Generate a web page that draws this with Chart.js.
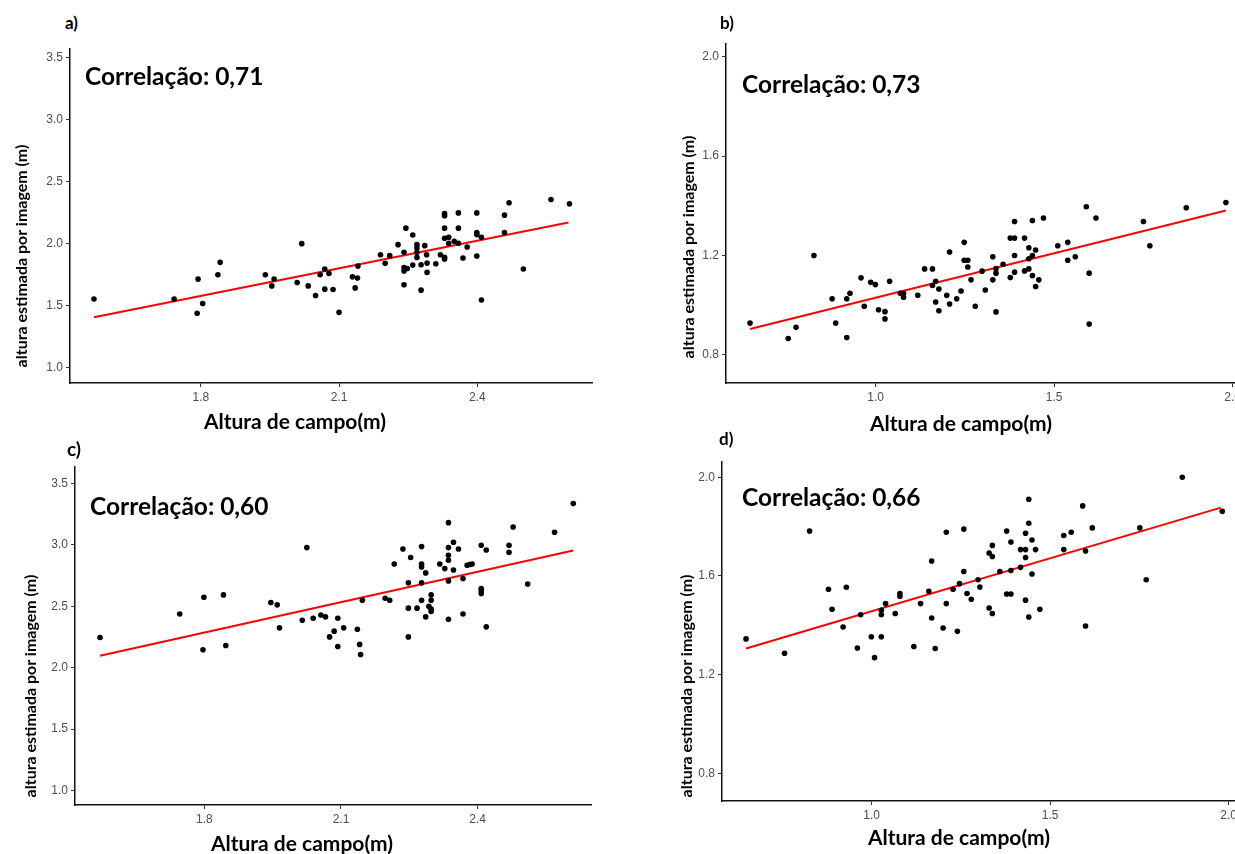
<!DOCTYPE html>
<html>
<head>
<meta charset="utf-8">
<script src="https://cdn.jsdelivr.net/npm/chart.js@4.4.1/dist/chart.umd.min.js"></script>
<style>
  html, body { margin:0; padding:0; background:#fff; }
  body { width:1235px; height:854px; overflow:hidden; position:relative; font-family:Lato, 'Open Sans', sans-serif; }
  canvas { position:absolute; }
  .txt { position:absolute; white-space:nowrap; font-weight:700; color:#000; line-height:1; }
  .tag { font-size:17px; }
  .corr { font-size:24.5px; }
  .xt { font-size:21px; transform:translateX(-50%); }
  .yt { font-size:16px; transform:translate(-50%,-50%) rotate(-90deg); }
</style>
</head>
<body>
<canvas id="cA" width="10" height="10"></canvas>
<canvas id="cB" width="10" height="10"></canvas>
<canvas id="cC" width="10" height="10"></canvas>
<canvas id="cD" width="10" height="10"></canvas>

<div class="txt tag" style="left:65px;top:14px">a)</div>
<div class="txt tag" style="left:720px;top:14px">b)</div>
<div class="txt tag" style="left:67px;top:439px;font-size:19px">c)</div>
<div class="txt tag" style="left:719px;top:430px">d)</div>

<div class="txt corr" style="left:85px;top:64px">Correlação: 0,71</div>
<div class="txt corr" style="left:742px;top:72px">Correlação: 0,73</div>
<div class="txt corr" style="left:90px;top:494px">Correlação: 0,60</div>
<div class="txt corr" style="left:742px;top:485px">Correlação: 0,66</div>

<div class="txt xt" style="left:295px;top:410px">Altura de campo(m)</div>
<div class="txt xt" style="left:961px;top:412px">Altura de campo(m)</div>
<div class="txt xt" style="left:302px;top:832px">Altura de campo(m)</div>
<div class="txt xt" style="left:959px;top:826px">Altura de campo(m)</div>

<div class="txt yt" style="left:21px;top:256px">altura estimada por imagem (m)</div>
<div class="txt yt" style="left:688px;top:247px">altura estimada por imagem (m)</div>
<div class="txt yt" style="left:30px;top:686px">altura estimada por imagem (m)</div>
<div class="txt yt" style="left:686px;top:686px">altura estimada por imagem (m)</div>

<script>
// ---- data ----
const xA = [1.568,1.742,1.794,1.792,1.804,1.837,1.842,1.940,1.954,1.959,2.019,2.009,2.033,2.049,2.059,2.069,2.078,2.069,2.087,2.100,
  2.141,2.129,2.140,2.135,2.190,2.200,2.210,2.228,2.245,2.260,2.241,2.241,2.241,2.248,2.241,2.260,2.269,2.269,2.269,2.269,
  2.286,2.290,2.278,2.291,2.291,2.278,2.310,2.320,2.329,2.329,2.329,2.329,2.329,2.329,2.338,2.338,2.350,2.359,2.359,2.359,
  2.378,2.369,2.399,2.399,2.399,2.409,2.399,2.409,2.459,2.459,2.469,2.500,2.560,2.600];
const yA = [1.551,1.551,1.711,1.435,1.514,1.746,1.846,1.746,1.656,1.711,1.997,1.684,1.656,1.579,1.746,1.792,1.757,1.630,1.627,1.443,
  1.816,1.729,1.719,1.640,1.908,1.838,1.900,1.989,2.122,2.067,1.927,1.805,1.776,1.797,1.665,1.824,1.989,1.962,1.927,1.886,
  1.981,1.908,1.827,1.840,1.765,1.622,1.835,1.908,1.873,1.886,2.240,2.222,2.122,2.040,2.049,2.000,2.016,2.000,2.245,2.122,
  1.970,1.881,2.245,2.086,2.070,2.049,1.897,1.543,2.227,2.086,2.327,1.792,2.353,2.318];
const fitA = [[1.568,1.403],[2.598,2.167]];

const xB = [0.648,0.755,0.777,0.827,0.878,0.888,0.919,0.928,0.919,0.959,0.968,0.986,0.999,1.008,1.026,1.026,1.039,1.069,1.078,1.078,
  1.118,1.137,1.159,1.168,1.159,1.177,1.168,1.177,1.207,1.199,1.207,1.227,1.239,1.248,1.248,1.258,1.258,1.267,1.279,1.298,
  1.307,1.328,1.337,1.337,1.328,1.337,1.357,1.377,1.389,1.389,1.389,1.377,1.389,1.417,1.429,1.429,1.439,1.448,1.417,1.429,
  1.439,1.457,1.448,1.439,1.470,1.510,1.538,1.538,1.559,1.590,1.617,1.598,1.598,1.750,1.768,1.870,1.981];
const yB = [0.928,0.866,0.911,1.200,1.026,0.928,1.026,1.048,0.870,1.110,0.996,1.092,1.083,0.982,0.974,0.945,1.096,1.048,1.032,1.048,
  1.040,1.146,1.146,1.096,1.079,1.065,1.013,0.978,1.214,1.040,1.005,1.026,1.057,1.253,1.181,1.181,1.154,1.102,0.996,1.137,
  1.061,1.195,1.147,1.129,1.102,0.973,1.165,1.270,1.270,1.337,1.200,1.111,1.133,1.270,1.231,1.187,1.200,1.222,1.138,1.146,
  1.119,1.102,1.075,1.341,1.351,1.239,1.253,1.181,1.195,1.396,1.351,1.129,0.924,1.337,1.239,1.392,1.413];
const fitB = [[0.648,0.904],[1.981,1.381]];

const xC = [1.571,1.746,1.799,1.797,1.842,1.847,1.946,1.960,1.965,2.025,2.015,2.039,2.056,2.066,2.075,2.085,2.093,2.093,2.106,2.136,
  2.141,2.143,2.147,2.197,2.207,2.217,2.236,2.253,2.248,2.248,2.248,2.267,2.277,2.277,2.277,2.286,2.277,2.277,2.286,2.298,
  2.298,2.293,2.298,2.298,2.317,2.328,2.336,2.336,2.336,2.336,2.336,2.336,2.347,2.347,2.358,2.368,2.368,2.377,2.383,2.388,
  2.408,2.419,2.408,2.408,2.408,2.419,2.469,2.469,2.478,2.510,2.569,2.610];
const yC = [2.245,2.437,2.573,2.145,2.592,2.180,2.530,2.511,2.324,2.977,2.386,2.402,2.429,2.413,2.250,2.297,2.402,2.172,2.324,2.313,
  2.189,2.107,2.549,2.565,2.549,2.844,2.966,2.896,2.690,2.484,2.250,2.484,2.985,2.844,2.820,2.771,2.690,2.549,2.413,2.592,
  2.549,2.500,2.476,2.457,2.844,2.806,3.180,2.977,2.915,2.874,2.706,2.394,3.020,2.795,2.966,2.725,2.437,2.833,2.840,2.844,
  2.996,2.958,2.644,2.625,2.603,2.332,2.996,2.939,3.145,2.681,3.102,3.335];
const fitC = [[1.571,2.096],[2.610,2.953]];

const xD = [0.648,0.756,0.826,0.879,0.889,0.929,0.920,0.960,0.969,0.999,1.008,1.027,1.027,1.027,1.039,1.066,1.079,1.079,1.118,1.137,
  1.168,1.160,1.168,1.178,1.200,1.209,1.209,1.228,1.240,1.246,1.258,1.258,1.267,1.279,1.298,1.303,1.329,1.338,1.329,1.338,
  1.338,1.359,1.378,1.390,1.390,1.378,1.390,1.417,1.431,1.417,1.431,1.431,1.431,1.440,1.440,1.440,1.449,1.449,1.459,1.471,
  1.538,1.538,1.559,1.591,1.599,1.599,1.618,1.751,1.769,1.870,1.982];
const yD = [1.345,1.287,1.782,1.546,1.465,1.554,1.393,1.308,1.443,1.354,1.269,1.354,1.443,1.461,1.488,1.448,1.529,1.518,1.314,1.488,
  1.661,1.538,1.430,1.306,1.389,1.777,1.488,1.546,1.376,1.569,1.790,1.618,1.529,1.506,1.585,1.555,1.470,1.448,1.693,1.724,
  1.679,1.618,1.782,1.738,1.622,1.527,1.527,1.707,1.707,1.635,1.773,1.675,1.502,1.911,1.814,1.434,1.746,1.608,1.707,1.465,
  1.764,1.707,1.777,1.884,1.701,1.397,1.795,1.795,1.585,2.000,1.862];
const fitD = [[0.648,1.306],[1.978,1.877]];

// tick labels
const xTicksAC = [1.8, 2.1, 2.4];
const yTicksAC = [1.0, 1.5, 2.0, 2.5, 3.0, 3.5];
const xTicksBD = [1.0, 1.5, 2.0];
const yTicksBD = [0.8, 1.2, 1.6, 2.0];

// axis ranges
const xRangeAC = [1.516, 2.649];
const xRangeBD = [0.5807, 2.0485];
const yRangeA = [0.873, 3.567];
const yRangeB = [0.687, 2.051];
const yRangeC = [0.882, 3.633];
const yRangeD = [0.688, 2.062];

// ---- layout: plot area in page pixels ----
const YW = 45, XH = 30, PAD = 12;
const boxes = {
  cA: { l: 70,    t: 49,    r: 592,    b: 383 },
  cB: { l: 726,   t: 44,    r: 1250,   b: 382.7 },
  cC: { l: 75,    t: 466.7, r: 591,    b: 805 },
  cD: { l: 721.5, t: 461.7, r: 1245.5, b: 800.7 }
};

function toPoints(xs, ys) { return xs.map((x, i) => ({ x, y: ys[i] })); }

function axis(range, ticks, isX) {
  return {
    type: 'linear',
    min: range[0], max: range[1],
    afterBuildTicks: s => { s.ticks = ticks.map(v => ({ value: v })); },
    afterFit: s => { if (isX) s.height = XH; else s.width = YW; },
    border: { display: true, color: '#111', width: 1.5 },
    grid: { display: true, drawOnChartArea: false, drawTicks: true, tickLength: 4, tickColor: '#333', tickWidth: 1 },
    ticks: {
      color: '#4D4D4D', padding: 3, autoSkip: false, maxRotation: 0,
      font: { family: "'Liberation Sans', Arial, sans-serif", size: 12 },
      callback: v => Number(v).toFixed(1)
    }
  };
}

function panel(id, xs, ys, fit, xRange, yRange, xTicks, yTicks) {
  const bx = boxes[id];
  const el = document.getElementById(id);
  const w = Math.round(bx.r - bx.l + YW + PAD);
  const h = Math.round(bx.b - bx.t + PAD + XH);
  el.width = w; el.height = h;
  el.style.left = (bx.l - YW) + 'px';
  el.style.top = (bx.t - PAD) + 'px';
  el.style.width = w + 'px'; el.style.height = h + 'px';
  new Chart(el.getContext('2d'), {
    type: 'scatter',
    data: {
      datasets: [
        { data: toPoints(xs, ys), backgroundColor: '#000', borderWidth: 0, pointRadius: 2.8 },
        { data: fit.map(p => ({ x: p[0], y: p[1] })), showLine: true, borderColor: '#FF0000',
          borderWidth: 2, pointRadius: 0, fill: false }
      ]
    },
    options: {
      responsive: false, animation: false, events: [],
      layout: { padding: { top: PAD, right: PAD, left: 0, bottom: 0 } },
      plugins: { legend: { display: false }, tooltip: { enabled: false } },
      scales: { x: axis(xRange, xTicks, true), y: axis(yRange, yTicks, false) }
    }
  });
}

panel('cA', xA, yA, fitA, xRangeAC, yRangeA, xTicksAC, yTicksAC);
panel('cB', xB, yB, fitB, xRangeBD, yRangeB, xTicksBD, yTicksBD);
panel('cC', xC, yC, fitC, xRangeAC, yRangeC, xTicksAC, yTicksAC);
panel('cD', xD, yD, fitD, xRangeBD, yRangeD, xTicksBD, yTicksBD);
</script>
</body>
</html>
